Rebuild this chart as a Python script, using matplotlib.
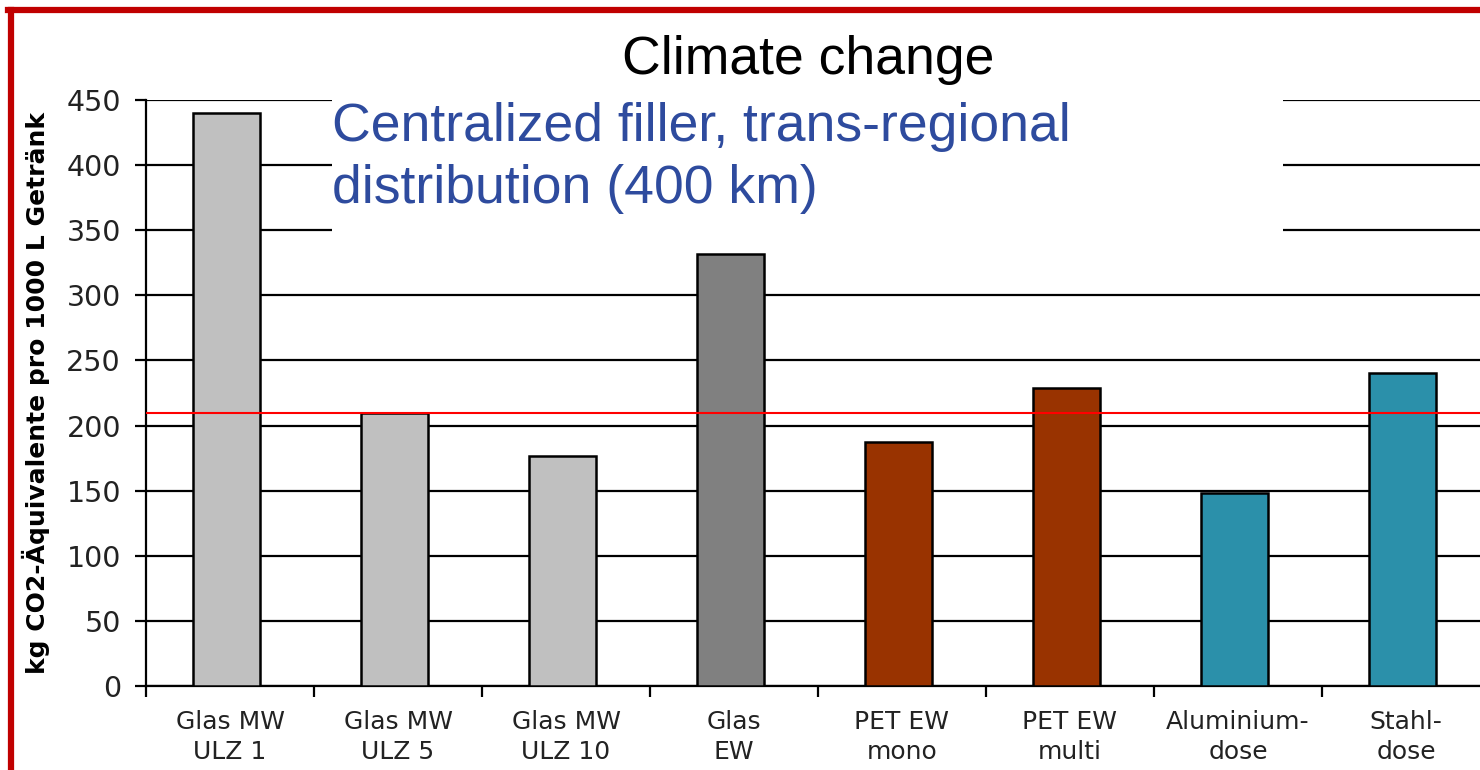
import matplotlib.pyplot as plt
from matplotlib.patches import Rectangle
import numpy as np

# data
categories = ["Glas MW\nULZ 1", "Glas MW\nULZ 5", "Glas MW\nULZ 10", "Glas\nEW",
              "PET EW\nmono", "PET EW\nmulti", "Aluminium-\ndose", "Stahl-\ndose"]
values = [440, 210, 177, 332, 187, 229, 148, 240]
bar_colors = ["#C0C0C0", "#C0C0C0", "#C0C0C0", "#808080",
              "#993300", "#993300", "#2B90AA", "#2B90AA"]
reference_value = 210
y_ticks = [0, 50, 100, 150, 200, 250, 300, 350, 400, 450]

W, H = 1480, 770
fig = plt.figure(figsize=(W / 100, H / 100), dpi=100)
fig.patch.set_facecolor("white")

# axis extends a little past the right figure edge, as in the reference
ax = fig.add_axes([146 / W, (H - 686) / H, 1344 / W, 586 / H])
x = np.arange(len(values))
ax.bar(x - 0.02, values, width=0.4, color=bar_colors, edgecolor="black", linewidth=1.8, zorder=3)
ax.axhline(reference_value, color="red", linewidth=1.5, zorder=4)

ax.set_xlim(-0.5, len(values) - 0.5)
ax.set_ylim(0, 450)
ax.set_yticks(y_ticks)
ax.yaxis.grid(True, color="black", linewidth=1.6, zorder=0)
ax.set_axisbelow(True)
ax.spines["top"].set_visible(False)
ax.spines["right"].set_visible(False)
ax.spines["left"].set_linewidth(1.6)
ax.spines["bottom"].set_linewidth(1.6)

ax.set_xticks(x)
ax.set_xticklabels(categories, fontsize=18, color="#222222", linespacing=1.35,
                   family="DejaVu Sans")
ax.tick_params(axis="x", length=0, pad=17)
ax.set_xticks(np.arange(len(values) + 1) - 0.5, minor=True)
ax.tick_params(axis="x", which="minor", length=8, width=1.6, direction="out")
ax.tick_params(axis="y", length=8, width=1.6, direction="out", pad=10,
               labelsize=20.5, labelcolor="#222222")
ax.set_ylabel("kg CO2-Äquivalente pro 1000 L Getränk", fontsize=18,
              fontweight="bold", labelpad=12)

# white box behind the subtitle hides the gridlines
fig.patches.append(Rectangle((332 / W, (H - 232) / H), (1283 - 332) / W, 133 / H,
                             transform=fig.transFigure, facecolor="white",
                             edgecolor="none", zorder=5))
fig.text(808 / W, 1 - 60 / H, "Climate change", fontsize=38.5, color="black",
         family="Liberation Sans", ha="center", va="center", zorder=6)
fig.text(332 / W, 1 - 102 / H, "Centralized filler, trans-regional\ndistribution (400 km)",
         fontsize=38.5, color="#2E4B9E", family="Liberation Sans",
         ha="left", va="top", linespacing=1.32, zorder=6)

# red frame on the left and top
fig.add_artist(plt.Line2D([10.5 / W, 10.5 / W], [0, 1 - 10 / H], color="#C00000",
                          linewidth=4.5, transform=fig.transFigure))
fig.add_artist(plt.Line2D([8 / W, 1], [1 - 10 / H, 1 - 10 / H], color="#C00000",
                          linewidth=4.5, transform=fig.transFigure))

fig.savefig("out.png", dpi=100)
